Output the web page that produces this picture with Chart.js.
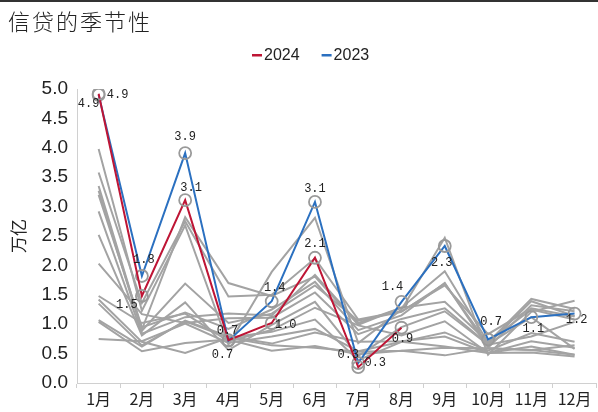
<!DOCTYPE html>
<html><head><meta charset="utf-8">
<script src="https://cdn.jsdelivr.net/npm/chart.js@4"></script>
<style>
html,body{margin:0;padding:0;overflow:hidden;background:#fff;width:598px;height:412px}
#wrap{position:absolute;left:0;top:0;width:604px;height:412px}
</style></head><body>
<div id="wrap"><canvas id="c" width="604" height="412"></canvas></div>
<script>
// ---- data ----
const TITLE = '信贷的季节性';
const Y_TITLE = '万亿';
const months = ['1月','2月','3月','4月','5月','6月','7月','8月','9月','10月','11月','12月'];
const yTickValues = [0,0.5,1,1.5,2,2.5,3,3.5,4,4.5,5];
const seriesNames = ['2024','2023'];
const s2024 = [4.92,1.48,3.11,0.73,1.02,2.13,0.27,0.94];
const s2023 = [4.90,1.82,3.91,0.72,1.39,3.08,0.34,1.38,2.33,0.74,1.12,1.18];
const hist01 = [3.98,1.23,2.68,0.65,1.89,2.81,0.68,1.25,2.47,0.48,1.21,1.40];
const hist02 = [3.58,1.36,2.75,1.47,1.50,2.12,1.08,1.22,1.66,0.83,1.27,1.13];
const hist03 = [3.35,0.91,2.82,1.70,1.48,1.81,0.99,1.28,1.90,0.69,1.43,1.26];
const hist04 = [3.27,0.89,1.69,1.02,1.18,1.66,1.06,1.21,1.69,0.66,1.39,1.14];
const hist05 = [3.20,0.95,1.20,0.92,1.25,1.72,0.90,1.15,1.70,0.60,1.32,1.22];
const hist06 = [2.92,0.84,1.12,1.18,1.15,1.84,1.02,1.28,1.38,0.70,1.25,1.08];
const hist07 = [2.52,0.81,1.37,0.56,0.99,1.38,0.46,0.95,1.22,0.65,0.79,1.04];
const hist08 = [2.03,1.17,1.02,1.10,1.11,1.54,0.83,1.09,1.27,0.66,1.12,0.58];
const hist09 = [1.48,1.02,1.18,0.71,0.90,1.28,0.98,0.81,1.05,0.51,0.71,0.60];
const hist10 = [1.42,0.70,0.51,0.77,0.64,0.60,0.53,0.55,0.60,0.59,0.56,0.48];
const hist11 = [1.35,0.64,1.05,0.77,0.87,1.08,0.39,0.70,0.86,0.55,0.85,0.70];
const hist12 = [1.07,0.62,1.06,0.79,0.67,0.86,0.70,0.71,0.79,0.51,0.62,0.48];
const hist13 = [1.04,0.54,0.68,0.74,0.55,0.63,0.49,0.55,0.47,0.59,0.56,0.64];
const hist14 = [0.75,0.71,1.01,0.68,0.79,0.92,0.54,0.70,0.62,0.51,0.52,0.45];
const histSeries = [hist01,hist02,hist03,hist04,hist05,hist06,hist07,hist08,hist09,hist10,hist11,hist12,hist13,hist14];

// ---- styles ----
const RED = '#be1535', BLUE = '#2b70c0', GRAY = '#a3a3a3', TXT = '#222';
const labelOffsets = {
  '2024': [[-10,10],[-15,9],[6,-12],[-6,15],[14,2],[0,-14],[-10,-12],[1,11]],
  '2023': [[19,0],[2,-16],[0,-16],[-1,-10],[3,-13],[0,-13],[17,0],[-9,-15],[-3,17],[3,-18],[2,12],[2,6]]
};

const hl = (name, data, color) => ({
  label: name, data, borderColor: color, backgroundColor: color, borderWidth: 2,
  pointRadius: 6, pointBorderColor: '#9a9a9a', pointBackgroundColor: 'rgba(0,0,0,0)',
  pointBorderWidth: 1.8, tension: 0
});
const datasets = [hl(seriesNames[0], s2024, RED), hl(seriesNames[1], s2023, BLUE)];
histSeries.forEach((d,i) => datasets.push({
  label: 'h'+i, data: d, borderColor: GRAY, borderWidth: 2, pointRadius: 0, tension: 0
}));

const headerPlugin = {
  id: 'header',
  afterDraw(chart) {
    const ctx = chart.ctx;
    ctx.save();
    ctx.fillStyle = '#333';
    ctx.fillRect(0, 0, chart.width, 2);
    ctx.fillStyle = TXT;
    ctx.textBaseline = 'middle';
    ctx.textAlign = 'left';
    ctx.font = '300 22px "Noto Sans CJK SC"';
    try { ctx.letterSpacing = '2px'; } catch(e) {}
    ctx.fillText(TITLE, 8, 22);
    try { ctx.letterSpacing = '0px'; } catch(e) {}
    // legend
    ctx.font = '16px "Liberation Sans", Arial';
    let x = 252;
    const cols = [RED, BLUE];
    seriesNames.forEach((n, i) => {
      ctx.fillStyle = cols[i];
      ctx.fillRect(x, 54, 10, 2.5);
      ctx.fillStyle = TXT;
      ctx.fillText(n, x + 12, 55.5);
      x += 12 + ctx.measureText(n).width + 22;
    });
    ctx.restore();
  },
  afterDatasetsDraw(chart) {
    const ctx = chart.ctx;
    ctx.save();
    ctx.font = '12px "Liberation Mono", monospace';
    ctx.fillStyle = TXT;
    ctx.textAlign = 'center';
    ctx.textBaseline = 'middle';
    [0,1].forEach(di => {
      const meta = chart.getDatasetMeta(di);
      const ds = chart.data.datasets[di];
      const offs = labelOffsets[ds.label];
      meta.data.forEach((pt, i) => {
        const v = ds.data[i];
        const o = offs[i] || [0,-14];
        ctx.fillText(v.toFixed(1), pt.x + o[0], pt.y + o[1]);
      });
    });
    ctx.restore();
  }
};

new Chart(document.getElementById('c'), {
  type: 'line',
  data: { labels: months, datasets },
  options: {
    responsive: false, animation: false, events: [],
    layout: { padding: { top: 89, left: 0, right: 0, bottom: 0 } },
    plugins: { legend: { display: false }, title: { display: false }, tooltip: { enabled: false } },
    scales: {
      x: {
        offset: true,
        grid: { display: true, drawOnChartArea: false, drawTicks: true, tickLength: 5, color: '#d0d0d0', offset: true },
        border: { display: true, color: '#d0d0d0', width: 1 },
        ticks: { color: TXT, font: { family: '"Noto Sans CJK SC"', size: 16 }, padding: 1, maxRotation: 0, autoSkip: false },
        afterFit(s) { s.height = 29; }
      },
      y: {
        min: 0, max: 5,
        grid: { display: false, drawTicks: false },
        border: { display: true, color: '#d0d0d0', width: 1 },
        ticks: { color: TXT, font: { family: '"Liberation Sans", Arial', size: 19 }, padding: 9, callback: v => Number(v).toFixed(1) },
        afterBuildTicks(s) { s.ticks = yTickValues.map(v => ({ value: v })); },
        title: { display: true, text: Y_TITLE, color: TXT, font: { family: '"Noto Sans CJK SC"', size: 17 }, padding: { top: 8, bottom: 0 } },
        afterFit(s) { s.width = 77; }
      }
    }
  },
  plugins: [headerPlugin]
});
</script>
</body></html>
